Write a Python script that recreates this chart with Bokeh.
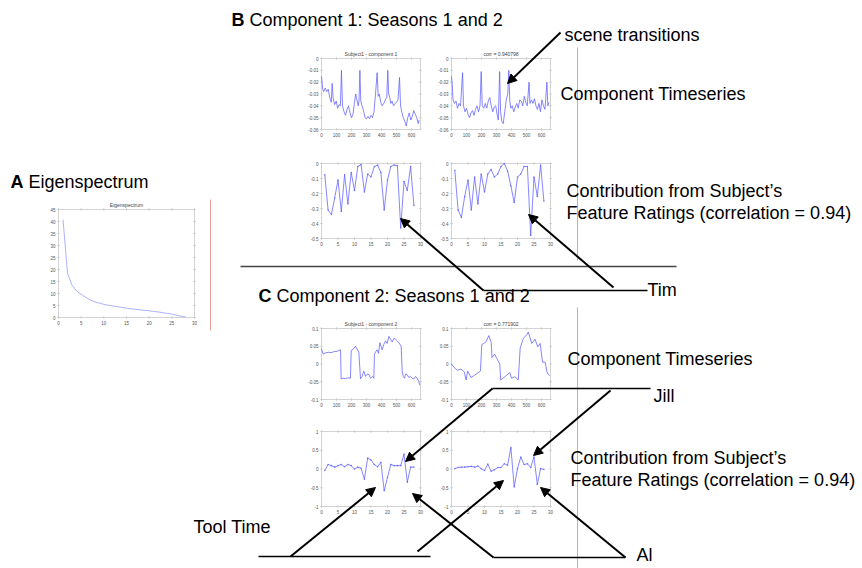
import numpy as np
from bokeh.plotting import figure
from bokeh.models import Range1d, Arrow, NormalHead
from bokeh.core.properties import value
from bokeh.embed import file_html
from bokeh.resources import INLINE

FONT = value("Liberation Sans")

# ---------------- data ----------------
eig_x = list(range(1, 29))
eig_vals = [40.7, 18.3, 13.4, 11.0, 9.7, 8.4, 7.3, 6.5, 6.0, 5.5, 5.1, 4.8, 4.5, 4.2,
            3.9, 3.6, 3.4, 3.2, 3.0, 2.8, 2.5, 2.3, 2.0, 1.7, 1.4, 1.0, 0.55, 0.3]

c1_subj_t = [0, 8, 15, 25, 35, 45, 55, 65, 71, 78, 88, 98, 108, 118, 126, 133, 140, 150, 160, 170,
             180, 190, 200, 210, 220, 228, 236, 245, 250, 256, 262, 270, 280, 290, 300, 310, 320, 330, 340, 350,
             360, 371, 378, 385, 395, 405, 415, 425, 435, 442, 448, 455, 462, 470, 480, 490, 500, 510, 520, 527,
             535, 545, 555, 565, 575, 585, 595, 605, 615, 625, 635, 645, 650]
c1_subj_v = [-0.015, -0.026, -0.028, -0.025, -0.028, -0.026, -0.033, -0.037, -0.021, -0.034,
             -0.039, -0.036, -0.042, -0.039, -0.040, -0.010, -0.040, -0.045, -0.048, -0.043,
             -0.040, -0.046, -0.050, -0.047, -0.037, -0.030, -0.035, -0.040, -0.036, -0.010,
             -0.036, -0.040, -0.044, -0.050, -0.051, -0.049, -0.051, -0.048, -0.050, -0.045,
             -0.030, -0.012, -0.032, -0.030, -0.037, -0.040, -0.038, -0.035, -0.033, -0.010,
             -0.030, -0.033, -0.038, -0.036, -0.040, -0.038, -0.037, -0.035, -0.016, -0.040,
             -0.045, -0.050, -0.053, -0.057, -0.050, -0.046, -0.052, -0.049, -0.044, -0.047,
             -0.050, -0.055, -0.052]

c1_grp_t = [0, 5, 10, 20, 30, 40, 50, 60, 74, 80, 90, 100, 110, 120, 130, 140, 150, 160, 170, 180,
            190, 198, 205, 215, 225, 235, 245, 255, 265, 275, 285, 295, 305, 312, 321, 327, 335, 345, 355, 365,
            375, 382, 388, 395, 405, 415, 425, 435, 445, 455, 465, 475, 485, 495, 505, 517, 523, 533, 543, 553,
            563, 573, 583, 593, 603, 613, 623, 636, 642, 650]
c1_grp_v = [-0.015, -0.022, -0.035, -0.038, -0.036, -0.042, -0.038, -0.040, -0.012, -0.040,
            -0.045, -0.042, -0.047, -0.050, -0.046, -0.044, -0.048, -0.043, -0.040, -0.045,
            -0.040, -0.011, -0.040, -0.042, -0.038, -0.042, -0.036, -0.033, -0.040, -0.045,
            -0.041, -0.040, -0.048, -0.052, -0.011, -0.045, -0.053, -0.055, -0.045, -0.035,
            -0.030, -0.010, -0.035, -0.042, -0.040, -0.045, -0.041, -0.038, -0.042, -0.035,
            -0.036, -0.040, -0.032, -0.037, -0.040, -0.020, -0.038, -0.035, -0.038, -0.034,
            -0.040, -0.043, -0.038, -0.045, -0.035, -0.040, -0.043, -0.020, -0.040, -0.037]

c2_subj_t = [0, 11, 25, 45, 65, 85, 105, 127, 131, 145, 160, 175, 193, 198, 212, 227, 240, 249, 260, 270,
             282, 293, 305, 316, 327, 340, 349, 353, 362, 371, 380, 389, 404, 415, 427, 438, 449, 460, 471, 482,
             493, 505, 516, 531, 538, 545, 553, 562, 571, 582, 593, 605, 616, 627, 638, 648, 656]
c2_subj_v = [0.043, 0.028, 0.031, 0.033, 0.032, 0.035, 0.036, 0.040, -0.042, -0.040,
             -0.041, -0.039, -0.040, 0.038, 0.042, 0.050, 0.040, 0.033, -0.042, -0.035,
             -0.020, -0.035, -0.028, -0.030, -0.040, -0.035, -0.040, 0.028, 0.035, 0.040,
             0.030, 0.060, 0.040, 0.055, 0.065, 0.058, 0.078, 0.070, 0.062, 0.072,
             0.070, 0.065, 0.060, 0.050, -0.020, -0.035, -0.040, -0.028, -0.030, -0.038,
             -0.035, -0.040, -0.042, -0.035, -0.040, -0.048, -0.060]

c2_grp_t = [0, 18, 40, 63, 85, 97, 108, 130, 153, 175, 193, 202, 215, 231, 249, 265, 270, 288, 299, 322,
            328, 344, 366, 389, 400, 423, 445, 458, 479, 501, 512, 535, 557, 575, 591, 607, 625, 636, 645, 655]
c2_grp_v = [0.000, -0.010, -0.018, -0.014, -0.022, -0.045, -0.020, -0.038, -0.032, -0.025,
            -0.020, 0.055, 0.058, 0.063, 0.080, 0.060, 0.018, 0.028, 0.018, 0.000,
            -0.045, -0.040, -0.032, -0.024, -0.040, -0.036, -0.045, 0.045, 0.072, 0.082,
            0.090, 0.058, 0.070, 0.048, 0.058, 0.005, 0.005, -0.022, -0.030, -0.032]

feat_x = list(range(1, 29))
c1_subj_r = [-0.075, -0.31, -0.34, -0.23, -0.11, -0.32, -0.075, -0.27, -0.06, -0.18, -0.02, -0.007, -0.19, -0.07,
             -0.09, -0.02, -0.01, -0.06, -0.31, -0.11, -0.02, -0.01, -0.015, -0.43, -0.12, -0.18, -0.02, -0.28]
c1_grp_r = [-0.045, -0.31, -0.36, -0.22, -0.11, -0.31, -0.09, -0.27, -0.07, -0.19, -0.07, -0.04, -0.09, -0.07,
            -0.02, 0.0, -0.05, -0.15, -0.26, -0.09, -0.07, -0.02, -0.02, -0.48, -0.09, -0.22, -0.01, -0.25]
c2_subj_r = [-0.04, 0.12, 0.09, 0.05, 0.09, 0.12, 0.06, 0.12, 0.09, 0.0, 0.05, 0.02, -0.27, 0.29,
             0.24, 0.12, 0.06, 0.18, -0.58, -0.22, 0.12, 0.09, 0.09, 0.09, 0.40, -0.35, 0.05, 0.05]
c2_grp_r = [0.01, 0.04, 0.05, 0.05, 0.06, 0.07, 0.05, 0.08, 0.01, -0.04, 0.13, -0.06, -0.02, 0.04,
            0.04, 0.14, 0.10, 0.57, -0.48, 0.01, 0.32, 0.12, 0.14, 0.04, 0.32, -0.41, 0.01, -0.01]

ts_xticks = [0, 100, 200, 300, 400, 500, 600]
ts_xlabels = ["0", "100", "200", "300", "400", "500", "600"]
feat_xticks = [0, 5, 10, 15, 20, 25, 30]
feat_xlabels = ["0", "5", "10", "15", "20", "25", "30"]
c1_ts_yticks = [0, -0.01, -0.02, -0.03, -0.04, -0.05, -0.06]
c1_ts_ylabels = ["0", "-0.01", "-0.02", "-0.03", "-0.04", "-0.05", "-0.06"]
c1_r_yticks = [0, -0.1, -0.2, -0.3, -0.4, -0.5]
c1_r_ylabels = ["0", "-0.1", "-0.2", "-0.3", "-0.4", "-0.5"]
c2_ts_yticks = [0.1, 0.05, 0, -0.05, -0.1]
c2_ts_ylabels = ["0.1", "0.05", "0", "-0.05", "-0.1"]
c2_r_yticks = [1, 0.5, 0, -0.5, -1]
c2_r_ylabels = ["1", "0.5", "0", "-0.5", "-1"]
eig_xticks = [0, 5, 10, 15, 20, 25, 30]
eig_xlabels = ["0", "5", "10", "15", "20", "25", "30"]
eig_yticks = [0, 5, 10, 15, 20, 25, 30, 35, 40, 45]
eig_ylabels = ["0", "5", "10", "15", "20", "25", "30", "35", "40", "45"]

# ---------------- canvas ----------------
p = figure(width=862, height=568, x_range=Range1d(0, 862), y_range=Range1d(568, 0),
           output_backend="svg", toolbar_location=None, min_border=0,
           x_axis_location=None, y_axis_location=None, outline_line_color=None,
           background_fill_color="white", border_fill_color="white")
p.grid.visible = False

LINE_C = "#6060ff"
FRAME_C = "#c8c8c8"
TICK_C = "#555555"


def panel(box, xlim, ylim, xt, xl, yt, yl, xs, ys, title=None, dots=False, color=LINE_C):
    l, r, t, b = box
    sub = p.subplot(x_source=Range1d(xlim[0], xlim[1]), y_source=Range1d(ylim[0], ylim[1]),
                    x_target=Range1d(l, r), y_target=Range1d(b, t))
    sub.quad(left=[xlim[0]], right=[xlim[1]], bottom=[ylim[0]], top=[ylim[1]],
             fill_color="white", line_color=FRAME_C, line_width=0.8)
    sub.scatter(x=xt, y=[ylim[0]] * len(xt), marker="dash", angle=np.pi / 2, size=3,
                line_color=FRAME_C, line_width=0.7)
    sub.scatter(x=xt, y=[ylim[1]] * len(xt), marker="dash", angle=np.pi / 2, size=3,
                line_color=FRAME_C, line_width=0.7)
    sub.scatter(x=[xlim[0]] * len(yt), y=yt, marker="dash", size=3, line_color=FRAME_C, line_width=0.7)
    sub.scatter(x=[xlim[1]] * len(yt), y=yt, marker="dash", size=3, line_color=FRAME_C, line_width=0.7)
    sub.text(x=xt, y=[ylim[0]] * len(xt), text=xl, text_font=FONT, text_font_size="4.5px",
             text_color=TICK_C, text_align="center", text_baseline="top", y_offset=3)
    sub.text(x=[xlim[0]] * len(yt), y=yt, text=yl, text_font=FONT, text_font_size="4.5px",
             text_color=TICK_C, text_align="right", text_baseline="middle", x_offset=-3)
    sub.line(x=xs, y=ys, line_color=color, line_width=0.9, line_alpha=0.85)
    if dots:
        sub.scatter(x=xs, y=ys, size=1.6, fill_color=color, line_color=None, fill_alpha=0.8)
    if title:
        sub.text(x=[(xlim[0] + xlim[1]) / 2], y=[ylim[1]], text=[title], text_font=FONT,
                 text_font_size="5px", text_color="#444444", text_align="center",
                 text_baseline="bottom", y_offset=-2)


# Panel A
panel((58, 194, 209, 317), (0, 30), (0, 45), eig_xticks, eig_xlabels, eig_yticks, eig_ylabels,
      eig_x, eig_vals, title="Eigenspectrum", color="#9098ff")

# Panel B
panel((321, 420, 58, 129), (0, 660), (-0.06, 0), ts_xticks, ts_xlabels, c1_ts_yticks, c1_ts_ylabels,
      c1_subj_t, c1_subj_v, title="Subject1 - component 1")
panel((451, 550, 58, 129), (0, 660), (-0.06, 0), ts_xticks, ts_xlabels, c1_ts_yticks, c1_ts_ylabels,
      c1_grp_t, c1_grp_v, title="corr = 0.940798")
panel((321, 420, 163, 238), (0, 30), (-0.5, 0), feat_xticks, feat_xlabels, c1_r_yticks, c1_r_ylabels,
      feat_x, c1_subj_r, dots=True)
panel((451, 550, 163, 238), (0, 30), (-0.5, 0), feat_xticks, feat_xlabels, c1_r_yticks, c1_r_ylabels,
      feat_x, c1_grp_r, dots=True)

# Panel C
panel((321, 420, 328, 399), (0, 660), (-0.1, 0.1), ts_xticks, ts_xlabels, c2_ts_yticks, c2_ts_ylabels,
      c2_subj_t, c2_subj_v, title="Subject1 - component 2")
panel((451, 550, 328, 399), (0, 660), (-0.1, 0.1), ts_xticks, ts_xlabels, c2_ts_yticks, c2_ts_ylabels,
      c2_grp_t, c2_grp_v, title="corr = 0.771902")
panel((321, 420, 431, 506), (0, 30), (-1, 1), feat_xticks, feat_xlabels, c2_r_yticks, c2_r_ylabels,
      feat_x, c2_subj_r, dots=True)
panel((451, 550, 431, 506), (0, 30), (-1, 1), feat_xticks, feat_xlabels, c2_r_yticks, c2_r_ylabels,
      feat_x, c2_grp_r, dots=True)

# ---------------- red guide lines ----------------
p.segment(x0=[210, 577, 577], y0=[199, 47, 307], x1=[210, 577, 577], y1=[330, 260, 568],
          line_color="#f19a9a", line_width=1)

# ---------------- separator and label lines ----------------
p.segment(x0=[240], y0=[266], x1=[676], y1=[266], line_color="#444444", line_width=1.5)
p.segment(x0=[483, 492, 258, 493], y0=[290, 388, 556, 557], x1=[647, 650, 430, 625],
          y1=[290, 388, 556, 557], line_color="black", line_width=1.5)

# ---------------- arrows ----------------
arrows = [
    (560, 32, 507, 83),
    (483, 290, 400, 218),
    (613, 287, 528, 214),
    (492, 388, 405, 461),
    (610, 390, 533, 455),
    (290, 556, 375, 487),
    (417, 551, 503, 480),
    (493, 557, 412, 493),
    (625, 557, 540, 487),
]
for xs0, ys0, xe, ye in arrows:
    p.add_layout(Arrow(end=NormalHead(size=9, fill_color="black", line_color="black", line_width=1),
                       x_start=xs0, y_start=ys0, x_end=xe, y_end=ye,
                       line_color="black", line_width=2))

# ---------------- texts (anchor = visual centre line) ----------------
BIG = "18px"
bold_labels = [("A", 10, 181), ("B", 231, 19), ("C", 258, 295)]
for t, x, y in bold_labels:
    p.text(x=[x], y=[y], text=[t], text_font=FONT, text_font_size=BIG, text_font_style="bold",
           text_baseline="alphabetic", text_color="black")
plain_labels = [
    ("Eigenspectrum", 28, 181),
    ("Component 1: Seasons 1 and 2", 249, 19),
    ("Component 2: Seasons 1 and 2", 276, 295),
    ("scene transitions", 564, 34),
    ("Component Timeseries", 560, 93),
    ("Contribution from Subject\u2019s", 566, 190),
    ("Feature Ratings (correlation = 0.94)", 566, 212),
    ("Tim", 647, 289),
    ("Component Timeseries", 567, 358),
    ("Jill", 653, 395),
    ("Contribution from Subject\u2019s", 570, 457),
    ("Feature Ratings (correlation = 0.94)", 570, 479),
    ("Tool Time", 193, 526),
    ("Al", 636, 554),
]
p.text(x=[v[1] for v in plain_labels], y=[v[2] for v in plain_labels], text=[v[0] for v in plain_labels],
       text_font=FONT, text_font_size=BIG, text_baseline="alphabetic", text_color="black")

open("out.html", "w").write(file_html(p, INLINE))
